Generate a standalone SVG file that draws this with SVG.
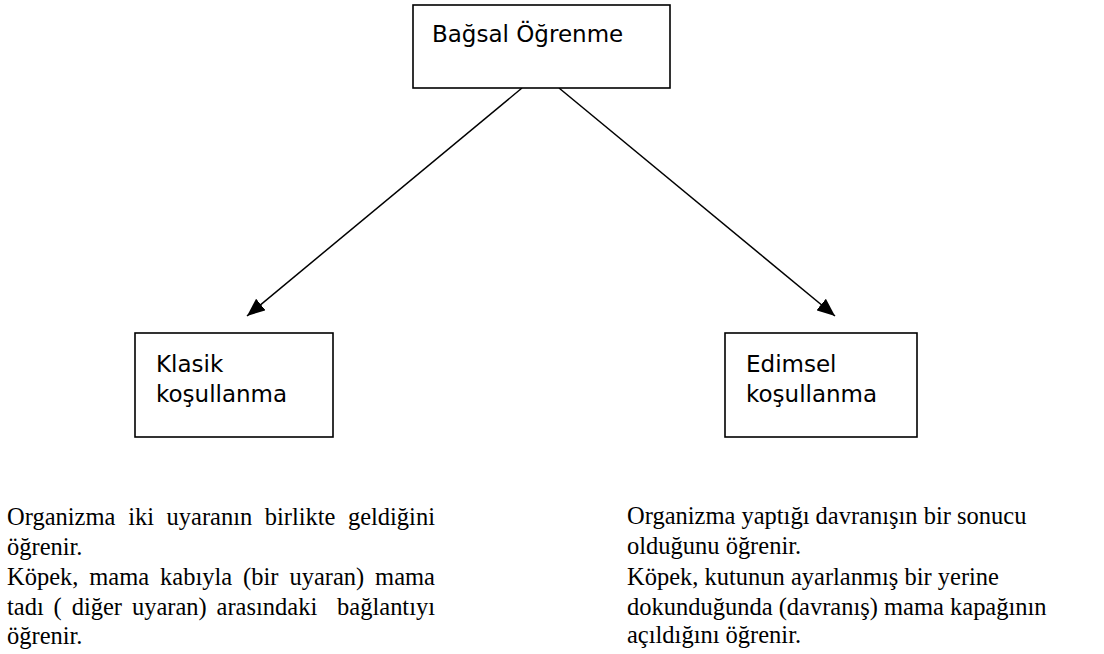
<svg xmlns="http://www.w3.org/2000/svg" width="1104" height="654" viewBox="0 0 1104 654">
<style>
.box{fill:#fff;stroke:#000;stroke-width:1.6}
.lbl{font-family:"DejaVu Sans",Verdana,sans-serif;font-size:23px;fill:#000}
.body{font-family:"Liberation Serif","Times New Roman",serif;font-size:24.5px;fill:#000}
.conn{stroke:#000;stroke-width:1.5;fill:none}
</style>
<defs>
<marker id="ah" markerUnits="userSpaceOnUse" markerWidth="19" markerHeight="15" refX="18" refY="7.5" orient="auto">
<path d="M0,0 L18,7.5 L0,15 z" fill="#000"/>
</marker>
</defs>
<rect width="1104" height="654" fill="#fff"/>
<g id="connectors">
<line class="conn" x1="522" y1="88" x2="247" y2="316" marker-end="url(#ah)"/>
<line class="conn" x1="559" y1="88" x2="835" y2="316" marker-end="url(#ah)"/>
</g>
<g id="bagsal">
<rect class="box" x="413" y="5" width="257" height="83"/>
<text class="lbl" x="432" y="42">Bağsal Öğrenme</text>
</g>
<g id="klasik">
<rect class="box" x="135" y="333" width="198" height="104"/>
<text class="lbl" x="156" y="372">Klasik</text>
<text class="lbl" x="156" y="402">koşullanma</text>
</g>
<g id="edimsel">
<rect class="box" x="725" y="333" width="192" height="104"/>
<text class="lbl" x="746" y="372">Edimsel</text>
<text class="lbl" x="746" y="402">koşullanma</text>
</g>
<g id="klasik-desc" class="body">
<text transform="translate(0,525) scale(1,1.07)"><tspan x="7">Organizma</tspan><tspan x="128.3">iki</tspan><tspan x="166.6">uyaranın</tspan><tspan x="264.7">birlikte</tspan><tspan x="347.9">geldiğini</tspan></text>
<text transform="translate(0,555) scale(1,1.07)" x="7">öğrenir.</text>
<text transform="translate(0,585) scale(1,1.07)"><tspan x="7">Köpek,</tspan><tspan x="89.3">mama</tspan><tspan x="160.1">kabıyla</tspan><tspan x="243.1">(bir</tspan><tspan x="289.4">uyaran)</tspan><tspan x="375.1">mama</tspan></text>
<text transform="translate(0,615) scale(1,1.07)"><tspan x="7">tadı</tspan><tspan x="53.6">(</tspan><tspan x="71.7">diğer</tspan><tspan x="131.9">uyaran)</tspan><tspan x="216.6">arasındaki</tspan><tspan x="337.1">bağlantıyı</tspan></text>
<text transform="translate(0,644) scale(1,1.07)" x="7">öğrenir.</text>
</g>
<g id="edimsel-desc" class="body">
<text transform="translate(627,524) scale(1,1.07)" x="0">Organizma yaptığı davranışın bir sonucu</text>
<text transform="translate(627,554) scale(1,1.07)" x="0">olduğunu öğrenir.</text>
<text transform="translate(627,585) scale(1,1.07)" x="0">Köpek, kutunun ayarlanmış bir yerine</text>
<text transform="translate(627,615) scale(1,1.07)" x="0">dokunduğunda (davranış) mama kapağının</text>
<text transform="translate(627,643) scale(1,1.07)" x="0">açıldığını öğrenir.</text>
</g>
</svg>
